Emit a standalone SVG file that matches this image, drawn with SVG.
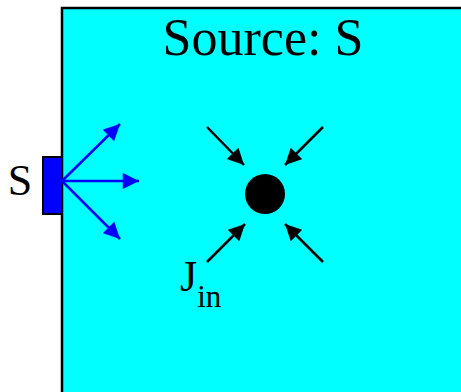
<svg xmlns="http://www.w3.org/2000/svg" width="461" height="392" viewBox="0 0 461 392">
<style>
text{font-family:"Liberation Serif","Times New Roman",serif;fill:#000}
.blue{stroke:#0000ff;stroke-width:2.5;fill:none}
.blk{stroke:#000;stroke-width:2.5;fill:none}
</style>
<defs>
<marker id="ab" viewBox="0 0 10 10" refX="10" refY="5" markerWidth="7" markerHeight="6.5" markerUnits="strokeWidth" orient="auto"><path d="M0,0 L10,5 L0,10 z" fill="#0000ff"/></marker>
<marker id="ak" viewBox="0 0 10 10" refX="10" refY="5" markerWidth="7" markerHeight="6.5" markerUnits="strokeWidth" orient="auto"><path d="M0,0 L10,5 L0,10 z" fill="#000"/></marker>
</defs>
<rect width="461" height="392" fill="#fff"/>
<g id="region">
<rect x="62" y="8" width="410" height="400" fill="#00ffff" stroke="#000" stroke-width="2.5"/>
<text x="263" y="55" font-size="52" text-anchor="middle">Source: S</text>
</g>
<g id="source">
<rect x="43" y="157" width="19" height="57" fill="#0000ff" stroke="#000" stroke-width="2"/>
<text x="20" y="195" font-size="44" text-anchor="middle">S</text>
</g>
<g id="point">
<circle cx="265" cy="194" r="20" fill="#000"/>
<text x="180" y="291" font-size="44">J<tspan font-size="31" dy="16">in</tspan></text>
</g>
<g id="connectors">
<line class="blue" x1="62" y1="181" x2="120" y2="124" marker-end="url(#ab)"/>
<line class="blue" x1="62" y1="181" x2="139" y2="181" marker-end="url(#ab)"/>
<line class="blue" x1="62" y1="181" x2="120" y2="239" marker-end="url(#ab)"/>
<line class="blk" x1="207" y1="127" x2="244" y2="165" marker-end="url(#ak)"/>
<line class="blk" x1="323" y1="127" x2="285" y2="165" marker-end="url(#ak)"/>
<line class="blk" x1="207" y1="262" x2="245" y2="224" marker-end="url(#ak)"/>
<line class="blk" x1="323" y1="262" x2="285" y2="224" marker-end="url(#ak)"/>
</g>
</svg>
